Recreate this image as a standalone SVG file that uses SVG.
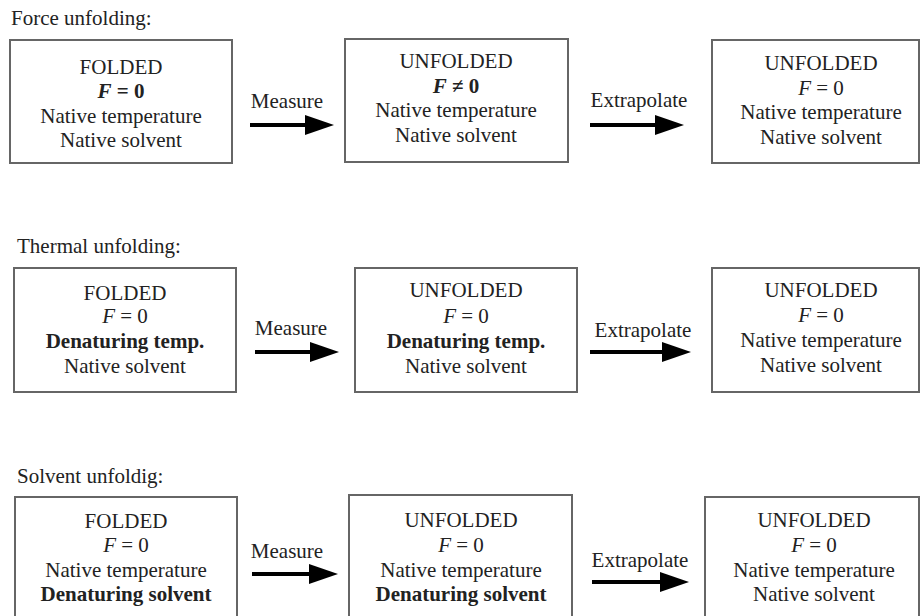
<svg xmlns="http://www.w3.org/2000/svg" width="921" height="616" viewBox="0 0 921 616">
<style>
text{font-family:"Liberation Serif","Times New Roman",serif;font-size:21px;fill:#222}
.c{text-anchor:middle}
.b{font-weight:bold}
.i{font-style:italic}
.box{fill:#fff;stroke:#666;stroke-width:2}
.arr{stroke:#000;stroke-width:4;fill:none;marker-end:url(#ah)}
</style>
<defs>
<marker id="ah" markerUnits="userSpaceOnUse" markerWidth="30" markerHeight="22" refX="8" refY="11" orient="auto" viewBox="0 0 30 22">
<path d="M0,1 L29,11 L0,21 z" fill="#000"/>
</marker>
</defs>
<rect width="921" height="616" fill="#fff"/>

<text x="11" y="25">Force unfolding:</text>
<text x="17" y="253">Thermal unfolding:</text>
<text x="17" y="483">Solvent unfoldig:</text>

<g id="r1b1">
<rect class="box" x="10" y="40" width="222" height="123"/>
<text class="c" x="121" y="74">FOLDED</text>
<text class="c b" x="121" y="98"><tspan class="i">F</tspan> = 0</text>
<text class="c" x="121" y="123">Native temperature</text>
<text class="c" x="121" y="147">Native solvent</text>
</g>
<g id="r1b2">
<rect class="box" x="345" y="39" width="223" height="123"/>
<text class="c" x="456" y="68">UNFOLDED</text>
<text class="c b" x="456" y="93"><tspan class="i">F</tspan> ≠ 0</text>
<text class="c" x="456" y="117">Native temperature</text>
<text class="c" x="456" y="142">Native solvent</text>
</g>
<g id="r1b3">
<rect class="box" x="712" y="40" width="207" height="123"/>
<text class="c" x="821" y="70">UNFOLDED</text>
<text class="c" x="821" y="95"><tspan class="i">F</tspan> = 0</text>
<text class="c" x="821" y="119">Native temperature</text>
<text class="c" x="821" y="144">Native solvent</text>
</g>

<g id="r2b1">
<rect class="box" x="14" y="268" width="222" height="124"/>
<text class="c" x="125" y="300">FOLDED</text>
<text class="c" x="125" y="323"><tspan class="i">F</tspan> = 0</text>
<text class="c b" x="125" y="348">Denaturing temp.</text>
<text class="c" x="125" y="373">Native solvent</text>
</g>
<g id="r2b2">
<rect class="box" x="355" y="268" width="222" height="124"/>
<text class="c" x="466" y="297">UNFOLDED</text>
<text class="c" x="466" y="323"><tspan class="i">F</tspan> = 0</text>
<text class="c b" x="466" y="348">Denaturing temp.</text>
<text class="c" x="466" y="373">Native solvent</text>
</g>
<g id="r2b3">
<rect class="box" x="712" y="268" width="207" height="124"/>
<text class="c" x="821" y="297">UNFOLDED</text>
<text class="c" x="821" y="322"><tspan class="i">F</tspan> = 0</text>
<text class="c" x="821" y="347">Native temperature</text>
<text class="c" x="821" y="372">Native solvent</text>
</g>

<g id="r3b1">
<rect class="box" x="15" y="497" width="222" height="130"/>
<text class="c" x="126" y="528">FOLDED</text>
<text class="c" x="126" y="552"><tspan class="i">F</tspan> = 0</text>
<text class="c" x="126" y="577">Native temperature</text>
<text class="c b" x="126" y="601">Denaturing solvent</text>
</g>
<g id="r3b2">
<rect class="box" x="349" y="495" width="223" height="130"/>
<text class="c" x="461" y="527">UNFOLDED</text>
<text class="c" x="461" y="552"><tspan class="i">F</tspan> = 0</text>
<text class="c" x="461" y="577">Native temperature</text>
<text class="c b" x="461" y="601">Denaturing solvent</text>
</g>
<g id="r3b3">
<rect class="box" x="705" y="497" width="214" height="130"/>
<text class="c" x="814" y="527">UNFOLDED</text>
<text class="c" x="814" y="552"><tspan class="i">F</tspan> = 0</text>
<text class="c" x="814" y="577">Native temperature</text>
<text class="c" x="814" y="601">Native solvent</text>
</g>

<g id="connectors">
<line class="arr" x1="250" y1="125" x2="313" y2="125"/>
<text class="c" x="287" y="108">Measure</text>
<line class="arr" x1="590" y1="125" x2="663" y2="125"/>
<text class="c" x="639" y="107">Extrapolate</text>
<line class="arr" x1="255" y1="352" x2="318" y2="352"/>
<text class="c" x="291" y="335">Measure</text>
<line class="arr" x1="590" y1="352" x2="670" y2="352"/>
<text class="c" x="643" y="337">Extrapolate</text>
<line class="arr" x1="252" y1="574" x2="317" y2="574"/>
<text class="c" x="287" y="558">Measure</text>
<line class="arr" x1="592" y1="582" x2="668" y2="582"/>
<text class="c" x="640" y="567">Extrapolate</text>
</g>
</svg>
